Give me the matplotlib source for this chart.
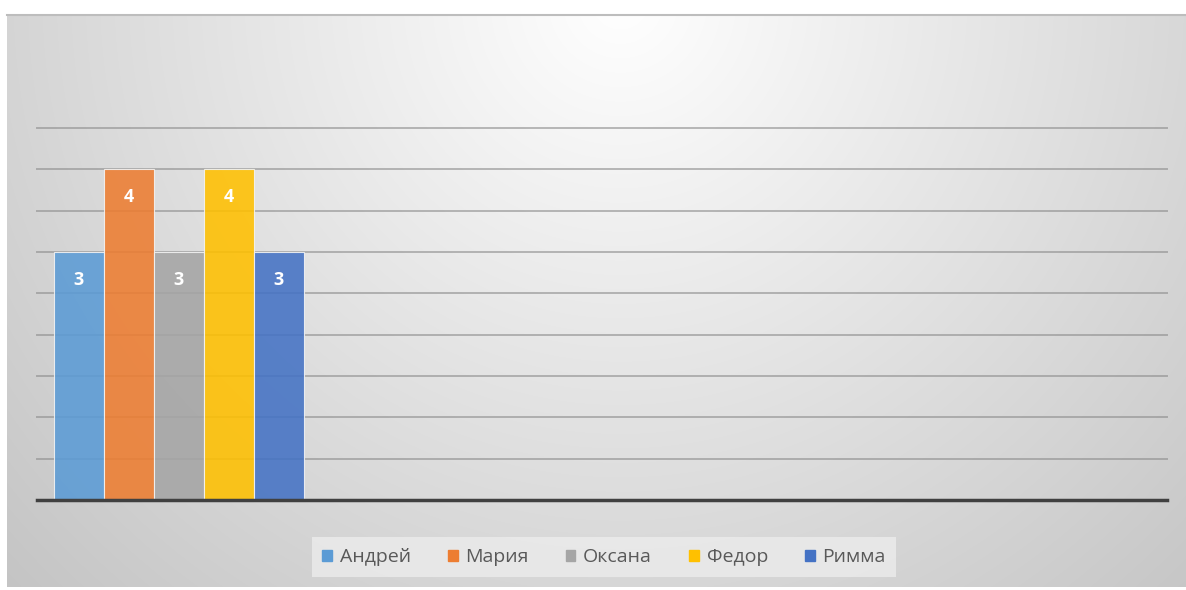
import numpy as np
import matplotlib
matplotlib.use('Agg')
import matplotlib.pyplot as plt
from matplotlib.patches import Rectangle

# Данные
names = ['Андрей', 'Мария', 'Оксана', 'Федор', 'Римма']
values = [3, 4, 3, 4, 3]
colors = ['#5B9BD5', '#ED7D31', '#A5A5A5', '#FFC000', '#4472C4']

plt.rcParams['font.family'] = ['Open Sans', 'DejaVu Sans']

W, H = 1186, 590
fig = plt.figure(figsize=(W / 100, H / 100), dpi=100)

# фон с радиальным градиентом
bg = fig.add_axes([0, 0, 1, 1], zorder=0)
yy, xx = np.mgrid[0:H, 0:W]
r = np.sqrt((xx - 620) ** 2 + (yy - 0) ** 2) / 700
v = np.clip(1 - 0.19 * r, 0, 1)
img = np.dstack([v, v, v])
bg.imshow(img, extent=[0, W, H, 0], aspect='auto')
# белые поля вокруг панели
bg.add_patch(Rectangle((0, 0), W, 14, color='white', lw=0))
bg.add_patch(Rectangle((0, 0), 7, H, color='white', lw=0))
bg.add_patch(Rectangle((0, 587), W, 3, color='white', lw=0))
bg.plot([7, W], [14.5, 14.5], color='#bdbdbd', lw=1.5)
bg.set_xlim(0, W)
bg.set_ylim(H, 0)
bg.axis('off')

# область графика
ax = fig.add_axes([37 / W, 90 / H, 1130 / W, 372 / H], zorder=1)
ax.patch.set_alpha(0)
x = np.arange(len(names))
ax.set_xlim(-0.84, 21.76)
ax.set_ylim(0, 4.5)
for gy in np.arange(0.5, 4.51, 0.5):
    ax.axhline(gy, color='#8c8c8c', lw=1.4, alpha=0.6, zorder=1, clip_on=False)
bars = ax.bar(x, values, width=1.0, color=colors, edgecolor='#f4f4f4',
              linewidth=0.8, alpha=0.88, zorder=2)
for rect, val in zip(bars, values):
    ax.text(rect.get_x() + rect.get_width() / 2, val - 0.34, str(val),
            ha='center', va='center', color='white', fontsize=13,
            fontweight='bold', zorder=3)
ax.axhline(0, color='#404040', lw=2.5, zorder=4, clip_on=False)
for s in ax.spines.values():
    s.set_visible(False)
ax.set_xticks([])
ax.set_yticks([])

# легенда
handles = [Rectangle((0, 0), 1, 1, color=c) for c in colors]
leg = fig.legend(handles, names, loc='center', bbox_to_anchor=(604 / W, 1 - 557 / H),
                 ncol=5, frameon=True, fancybox=False, fontsize=14,
                 handlelength=0.5, handleheight=0.5, handletextpad=0.4,
                 columnspacing=1.9, borderpad=0.55, borderaxespad=0)
leg.get_frame().set_facecolor('#ececec')
leg.get_frame().set_edgecolor('none')
leg.get_frame().set_alpha(0.8)
for t in leg.get_texts():
    t.set_color('#595959')

fig.savefig('out.png', dpi=100)
